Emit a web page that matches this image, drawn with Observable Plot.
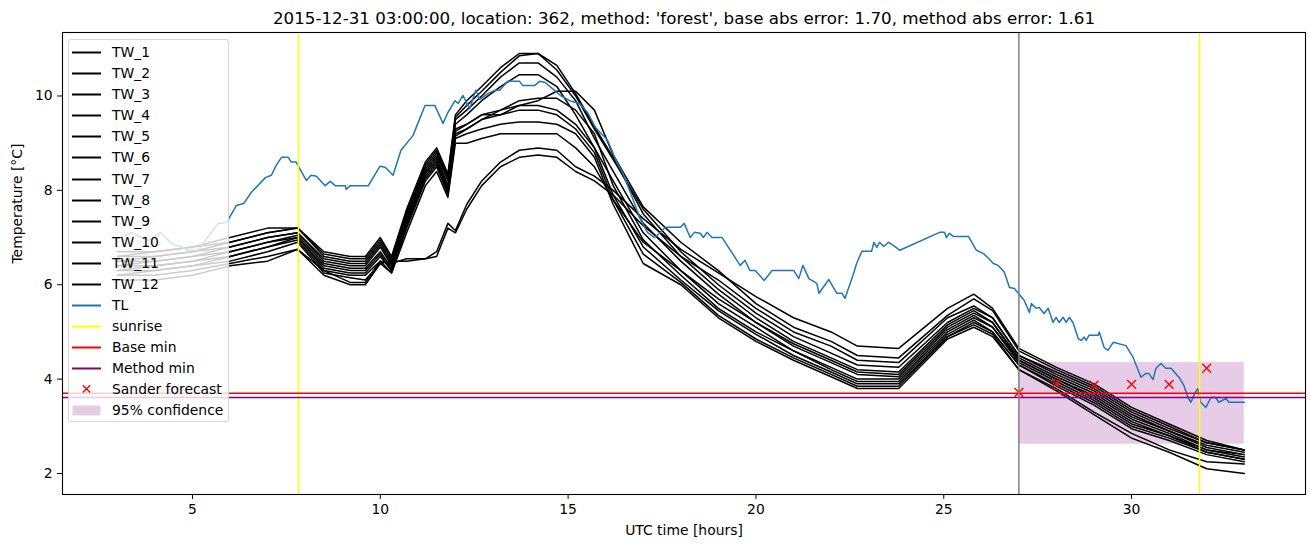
<!DOCTYPE html>
<html>
<head>
<meta charset="utf-8">
<script src="https://cdn.jsdelivr.net/npm/d3@7"></script>
<script src="https://cdn.jsdelivr.net/npm/@observablehq/plot@0.6"></script>
<style>
  html, body { margin: 0; padding: 0; background: #fff; }
  #wrap { position: relative; width: 1310px; height: 547px; font-family: "DejaVu Sans", sans-serif; }
  #wrap svg { display: block; }
  #legend { position: absolute; left: 68px; top: 39px; width: 161px; height: 383px;
    background: rgba(255,255,255,0.8); border: 1px solid rgba(204,204,204,0.8); border-radius: 3px; box-sizing: border-box; }
  .row { position: absolute; left: 0; height: 21px; width: 160px; }
  .row span { position: absolute; left: 43px; top: 0; font-size: 13.9px; line-height: 21px; color: #000; white-space: nowrap; }
  .row svg { position: absolute; left: 3px; top: 0; }
</style>
</head>
<body>
<div id="wrap"></div>
<script>
// ---------- data ----------
const titleText = "2015-12-31 03:00:00, location: 362, method: 'forest', base abs error: 1.70, method abs error: 1.61";
const xLabel = "UTC time [hours]";
const yLabel = "Temperature [°C]";
const xTicks = [5, 10, 15, 20, 25, 30];
const yTicks = [2, 4, 6, 8, 10];

// time grid of the TW series (hours)
const twTime = [3,4,5,6,7,7.8,8.5,9.2,9.6,10.0,10.3,10.7,11.2,11.5,11.8,12.0,12.3,12.7,13.2,13.7,14.2,14.7,15.2,15.7,16.2,17,18,19,20,21,22,22.7,23.8,25.1,25.8,26.3,27,28,29,30,31,32,33];

const TW_1  = [6.7,6.7,6.8,7.0,7.2,7.2, 6.7,6.6,6.6,7.0,6.6, 7.6,8.6,8.9,8.35,9.6,9.9,10.2,10.6,10.9, 10.9,10.55,10.0,9.3,8.65,7.6, 6.7,6.0,5.4,4.9,4.55,4.3,4.25, 5.2,5.5,5.3,4.5, 4.1,3.75,3.25,2.9,2.6,2.45];
const TW_2  = [6.6,6.7,6.8,6.9,7.1,7.2, 6.65,6.55,6.55,6.95,6.55, 7.55,8.55,8.85,8.3,9.55,9.8,10.1,10.5,10.85, 10.9,10.65,10.05,9.35,8.7,7.5, 6.6,5.9,5.3,4.8,4.45,4.2,4.15, 5.15,5.45,5.2,4.45, 4.05,3.7,3.2,2.9,2.55,2.4];
const TW_3  = [6.6,6.6,6.7,6.9,7.1,7.2, 6.6,6.5,6.5,6.9,6.5, 7.5,8.5,8.8,8.25,9.5,9.7,10.0,10.4,10.7, 10.7,10.4,9.9,9.1,8.4,7.3, 6.5,5.8,5.2,4.7,4.35,4.1,4.05, 5.05,5.35,5.1,4.4, 4.0,3.6,3.1,2.8,2.5,2.35];
const TW_4  = [6.5,6.6,6.7,6.8,7.0,7.1, 6.55,6.45,6.45,6.85,6.45, 7.45,8.45,8.75,8.2,9.4,9.6,9.9,10.2,10.45, 10.45,10.2,9.6,8.9,8.2,7.1, 6.3,5.6,5.1,4.6,4.25,4.0,4.0, 5.0,5.3,5.1,4.35, 3.95,3.55,3.05,2.8,2.45,2.3];
const TW_5  = [6.5,6.5,6.6,6.8,7.0,7.1, 6.5,6.4,6.4,6.8,6.4, 7.4,8.4,8.7,8.1,9.3,9.4,9.6,9.6,9.8, 9.9,10.1,10.1,9.7,8.75,7.65, 6.9,6.3,5.6,5.1,4.8,4.5,4.45, 5.35,5.7,5.45,4.6, 4.2,3.85,3.35,3.0,2.65,2.5];
const TW_6  = [6.4,6.5,6.6,6.7,6.9,7.05, 6.45,6.35,6.35,6.7,6.35, 7.35,8.35,8.65,8.05,9.25,9.4,9.6,9.7,9.9, 9.95,9.95,9.7,9.2,8.1,6.95, 6.2,5.5,5.0,4.6,4.2,3.95,3.95, 4.95,5.25,5.0,4.3, 3.9,3.5,3.0,2.75,2.45,2.3];
const TW_7  = [6.4,6.4,6.5,6.7,6.9,7.0, 6.4,6.3,6.3,6.65,6.3, 7.3,8.3,8.6,8.0,9.2,9.3,9.5,9.7,9.8, 9.8,9.7,9.4,8.9,7.9,6.8, 6.1,5.45,4.95,4.5,4.15,3.9,3.9, 4.9,5.2,5.0,4.3, 3.85,3.45,2.95,2.7,2.4,2.25];
const TW_8  = [6.3,6.4,6.5,6.6,6.8,7.0, 6.35,6.25,6.25,6.6,6.3, 7.25,8.25,8.55,7.95,9.15,9.3,9.5,9.6,9.7, 9.7,9.6,9.3,8.8,7.8,6.65, 6.05,5.35,4.85,4.45,4.1,3.85,3.85, 4.9,5.15,4.95,4.2, 3.8,3.3,2.85,2.5,2.25,2.2];
const TW_9  = [6.3,6.3,6.4,6.6,6.8,6.95, 6.3,6.2,6.2,6.5,6.25, 7.2,8.2,8.5,7.9,9.1,9.2,9.3,9.4,9.45, 9.45,9.4,9.2,8.7,7.7,6.45, 6.0,5.3,4.8,4.4,4.05,3.8,3.8, 4.85,5.1,4.9,4.2, 3.75,3.25,2.75,2.45,2.1,2.0];
const TW_10 = [6.2,6.3,6.4,6.5,6.7,6.9, 6.25,6.15,6.1,6.45,6.25, 7.1,8.1,8.4,7.85,9.0,9.0,9.1,9.2,9.2, 9.2,9.2,8.9,8.5,7.8,6.9, 6.3,5.7,5.2,4.75,4.4,4.15,4.1, 5.1,5.4,5.2,4.4, 4.0,3.65,3.15,2.85,2.5,2.4];
const TW_11 = [6.2,6.2,6.3,6.45,6.6,6.75, 6.3,6.05,6.05,6.5,6.45, 6.55,6.55,6.7,7.3,7.15,7.7,8.2,8.6,8.85, 8.9,8.85,8.5,8.3,8.0,7.4, 6.75,6.25,5.75,5.3,5.0,4.7,4.65, 5.5,5.8,5.5,4.65, 4.25,3.9,3.4,3.05,2.7,2.5];
const TW_12 = [6.1,6.1,6.2,6.4,6.5,6.75, 6.2,6.0,6.0,6.45,6.5, 6.5,6.55,6.6,7.2,7.1,7.6,8.1,8.5,8.7, 8.75,8.7,8.4,8.2,7.9,7.25, 6.6,6.1,5.5,5.0,4.7,4.4,4.35, 5.3,5.55,5.3,4.5, 4.15,3.8,3.3,2.95,2.65,2.5];
const twNames = ["TW_1","TW_2","TW_3","TW_4","TW_5","TW_6","TW_7","TW_8","TW_9","TW_10","TW_11","TW_12"];
const twSeries = [TW_1,TW_2,TW_3,TW_4,TW_5,TW_6,TW_7,TW_8,TW_9,TW_10,TW_11,TW_12];

// TL (air temperature) readings
const tlTime = [3.0,3.38,3.65,3.84,4.15,4.45,4.77,4.84,5.16,5.48,5.69,5.91,6.17,6.36,6.57,6.94,7.10,7.23,7.37,7.55,7.63,7.76,8.03,8.16,8.30,8.53,8.67,8.80,9.07,9.09,9.20,9.68,9.99,10.13,10.34,10.55,10.87,11.19,11.45,11.67,11.80,11.99,12.07,12.20,12.38,12.54,12.65,12.86,13.05,13.18,13.39,13.71,13.79,14.11,14.24,14.38,14.64,14.80,15.04,15.30,15.52,15.73,16.05,16.31,16.45,16.66,16.92,17.11,17.30,17.43,17.59,17.99,18.09,18.25,18.36,18.52,18.60,18.70,18.83,19.10,19.58,19.71,19.84,19.98,20.22,20.43,21.01,21.14,21.25,21.41,21.62,21.68,21.94,22.15,22.29,22.37,22.60,22.68,22.82,23.08,23.14,23.22,23.29,23.40,23.53,23.67,23.83,24.89,25.02,25.07,25.15,25.26,25.66,25.87,26.06,26.19,26.32,26.45,26.61,26.75,26.88,27.14,27.28,27.33,27.46,27.54,27.67,27.78,27.91,27.99,28.07,28.18,28.26,28.34,28.44,28.58,28.66,28.74,28.79,28.87,29.11,29.14,29.27,29.37,29.51,29.85,30.04,30.25,30.38,30.46,30.57,30.65,30.78,30.91,31.05,31.26,31.39,31.50,31.58,31.66,31.76,31.84,31.98,32.11,32.24,32.32,32.51,32.59,33.0];
const tlTemp = [6.98,7.11,7.0,6.94,7.11,6.87,6.79,6.73,6.73,7.09,7.3,7.32,7.68,7.72,7.96,8.27,8.32,8.53,8.70,8.70,8.6,8.6,8.21,8.32,8.3,8.1,8.19,8.1,8.1,8.02,8.1,8.1,8.51,8.49,8.32,8.85,9.16,9.8,9.8,9.42,9.65,9.9,9.84,10.01,9.73,10.12,9.93,10.05,10.12,10.12,10.31,10.31,10.22,10.22,10.31,10.29,10.12,10.01,9.9,9.84,9.65,9.33,9.06,8.57,8.38,7.95,7.4,7.11,7.0,7.09,7.22,7.22,7.3,7.0,7.11,7.09,7.0,7.11,7.0,7.0,6.41,6.52,6.3,6.3,6.09,6.3,6.3,6.13,6.41,6.13,6.03,5.82,6.11,5.82,5.82,5.71,6.24,6.45,6.71,6.71,6.9,6.79,6.9,6.81,6.9,6.83,6.73,7.11,7.11,7.0,7.09,7.02,7.02,6.73,6.66,6.56,6.45,6.41,6.27,5.94,5.92,5.67,5.41,5.6,5.5,5.52,5.39,5.5,5.2,5.31,5.2,5.31,5.2,5.31,5.2,4.86,4.82,4.89,4.82,4.93,4.93,5.0,4.67,4.61,4.78,4.71,4.46,4.04,4.12,4.12,3.99,4.23,4.33,4.23,4.23,4.04,3.87,3.61,3.51,3.66,3.8,3.51,3.4,3.61,3.61,3.51,3.59,3.51,3.51];

const sunriseHours = [7.82, 31.81];
const forecastHour = [27];
const baseMin = [3.70];
const methodMin = [3.61];
const sanderHours = [27, 28, 29, 30, 31, 32];
const sanderTemps = [3.72, 3.91, 3.87, 3.89, 3.89, 4.23];
const confHours = [27, 33];
const confTemps = [2.62, 4.35];

const legendLabels = [...twNames, "TL", "sunrise", "Base min", "Method min", "Sander forecast", "95% confidence"];

// ---------- tables built from the arrays ----------
const twData = twSeries.flatMap((vals, i) => vals.map((v, j) => ({series: twNames[i], t: twTime[j], v})));
const tlData = tlTime.map((t, i) => ({t, v: tlTemp[i]}));
const sander = sanderHours.map((t, i) => ({t, v: sanderTemps[i]}));
const conf = [{x1: confHours[0], x2: confHours[1], y1: confTemps[0], y2: confTemps[1]}];

const chart = Plot.plot({
  width: 1310,
  height: 547,
  marginLeft: 62,
  marginRight: 5,
  marginTop: 32,
  marginBottom: 53,
  style: {fontFamily: "DejaVu Sans, sans-serif", fontSize: "13.9px", color: "#000", background: "#fff", overflow: "visible"},
  x: {domain: [1.54, 34.63]},
  y: {domain: [1.555, 11.345]},
  marks: [
    Plot.rect(conf, {x1: "x1", x2: "x2", y1: "y1", y2: "y2", fill: "purple", fillOpacity: 0.2}),
    Plot.line(twData, {x: "t", y: "v", z: "series", stroke: "black", strokeWidth: 1.5, strokeLinejoin: "round"}),
    Plot.line(tlData, {x: "t", y: "v", stroke: "#1f77b4", strokeWidth: 1.5, strokeLinejoin: "round"}),
    Plot.ruleX(sunriseHours, {stroke: "yellow", strokeWidth: 1.5}),
    Plot.ruleY(baseMin, {stroke: "red", strokeWidth: 1.5}),
    Plot.ruleY(methodMin, {stroke: "purple", strokeWidth: 1.5}),
    Plot.dot(sander, {x: "t", y: "v", symbol: "times", r: 4.1, stroke: "red", strokeWidth: 1.4}),
    Plot.ruleX(forecastHour, {stroke: "gray", strokeWidth: 1.5}),
    Plot.frame({stroke: "black", strokeWidth: 1.1}),
    Plot.axisX({ticks: xTicks, tickSize: 4.9, tickPadding: 5, tickFormat: d => String(d), label: null, fontSize: 13.9}),
    Plot.axisY({ticks: yTicks, tickSize: 4.9, tickPadding: 5, tickFormat: d => String(d), label: null, fontSize: 13.9}),
    Plot.text([titleText], {text: d => d, frameAnchor: "top", dy: -14, lineAnchor: "middle", fontSize: 16.7}),
    Plot.text([xLabel], {text: d => d, frameAnchor: "bottom", dy: 36, lineAnchor: "middle", fontSize: 13.9}),
    Plot.text([yLabel], {text: d => d, frameAnchor: "left", dx: -45, rotate: -90, lineAnchor: "middle", fontSize: 13.9})
  ]
});

const wrap = document.getElementById("wrap");
wrap.appendChild(chart);

// legend (upper left, inside the axes)
const leg = document.createElement("div");
leg.id = "legend";
const handles = [
  ...twNames.map(() => ({type: "line", color: "black"})),
  {type: "line", color: "#1f77b4"},
  {type: "line", color: "yellow"},
  {type: "line", color: "red"},
  {type: "line", color: "purple"},
  {type: "x", color: "red"},
  {type: "patch", color: "purple"}
];
legendLabels.forEach((lab, i) => {
  const row = document.createElement("div");
  row.className = "row";
  row.style.top = (2.2 + 21.05 * i) + "px";
  const h = handles[i];
  let g = "";
  if (h.type === "line") g = `<line x1="0" x2="29" y1="10.5" y2="10.5" stroke="${h.color}" stroke-width="2"/>`;
  else if (h.type === "x") g = `<path d="M10.8,6.2L18.2,13.6M10.8,13.6L18.2,6.2" stroke="${h.color}" stroke-width="1.4" fill="none"/>`;
  else g = `<rect x="0.5" y="5.5" width="28" height="10" fill="${h.color}" fill-opacity="0.2"/>`;
  row.innerHTML = `<svg width="30" height="21">${g}</svg><span>${lab}</span>`;
  leg.appendChild(row);
});
wrap.appendChild(leg);
</script>
</body>
</html>
